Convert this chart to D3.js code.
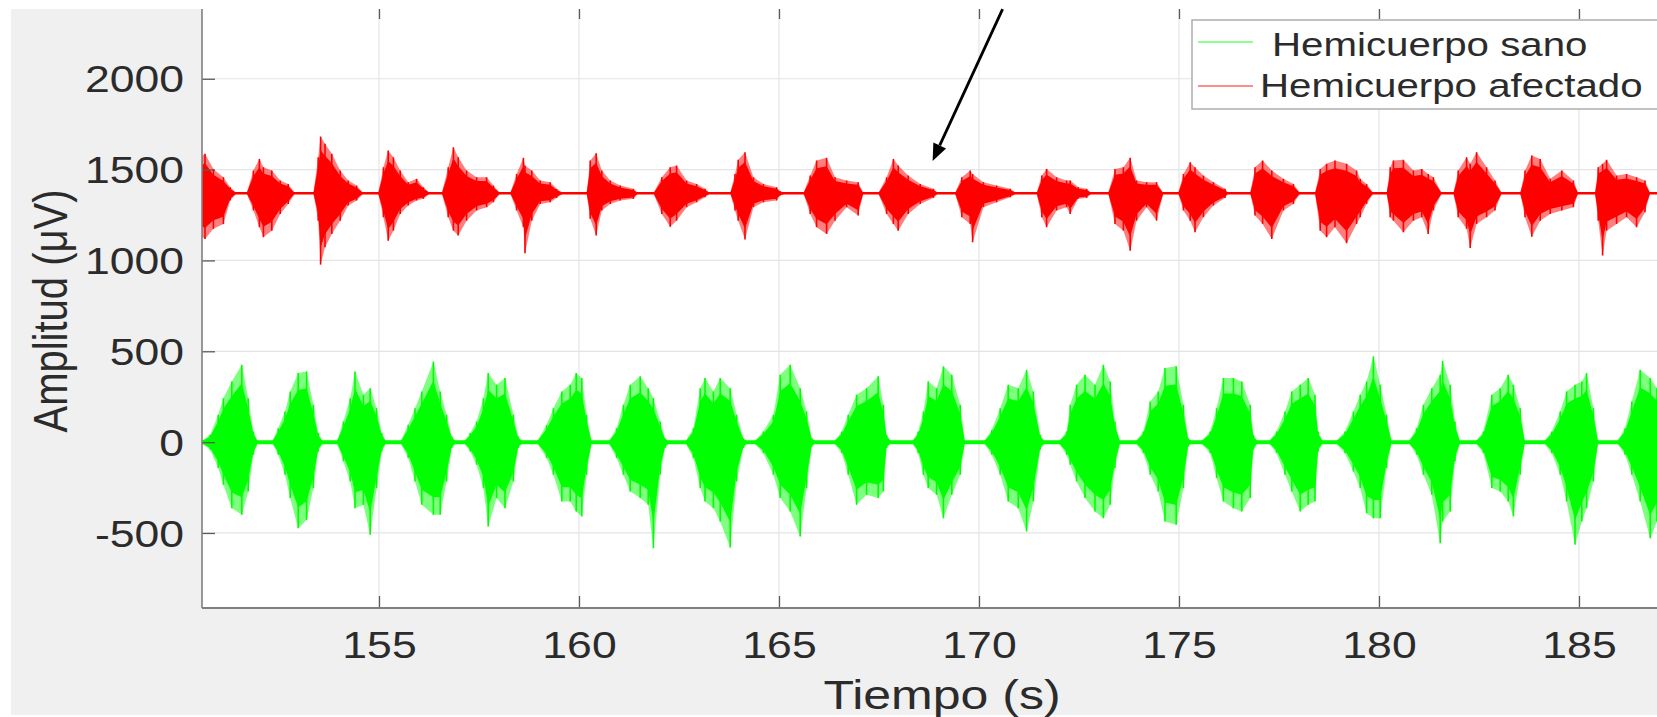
<!DOCTYPE html>
<html>
<head>
<meta charset="utf-8">
<script src="https://cdn.jsdelivr.net/npm/d3@7"></script>
<style>
  body { margin: 0; background: #fff; }
  svg { display: block; }
  text { font-family: "Liberation Sans", Arial, sans-serif; fill: #2b2b2b; }
</style>
</head>
<body>
<div id="chart"></div>
<script>
const width = 1657, height = 717;

// ticks
const xTicks = [155, 160, 165, 170, 175, 180, 185];
const yTicks = [-500, 0, 500, 1000, 1500, 2000];

// series names / colours
const seriesNames = ['Hemicuerpo sano', 'Hemicuerpo afectado'];
const seriesColors = ['#00ff00', '#ff0000'];

// baselines of each signal (µV)
const sanoBase = 0;
const afectadoBase = 1370;

// envelope of each signal: [tiempo (s), max (µV), min (µV)]
const sanoEnv = [
  [150.53,0,0],[150.78,40,-42],[150.98,151,-143],[151.11,242,-235],[151.32,334,-364],[151.57,426,-400],[151.73,242,-272],[151.86,59,-70],[151.98,0,0],
  [152.32,0,0],[152.48,77,-70],[152.65,169,-180],[152.78,279,-308],[152.98,380,-474],[153.19,389,-428],[153.36,206,-253],[153.48,50,-51],[153.61,0,0],
  [153.94,0,0],[154.11,114,-106],[154.28,242,-217],[154.40,389,-364],[154.61,261,-345],[154.78,297,-510],[154.94,187,-253],[155.07,50,-51],[155.19,0,0],
  [155.53,0,0],[155.73,95,-88],[155.90,187,-217],[156.07,279,-345],[156.36,444,-400],[156.53,279,-400],[156.69,151,-217],[156.82,31,-33],[156.94,0,0],
  [157.11,0,0],[157.28,50,-51],[157.44,114,-125],[157.61,242,-253],[157.73,380,-464],[157.94,316,-308],[158.15,353,-364],[158.36,151,-217],[158.48,31,-33],[158.61,0,0],
  [158.94,0,0],[159.19,95,-88],[159.36,187,-180],[159.57,279,-327],[159.78,316,-327],[159.93,380,-382],[160.07,353,-409],[160.19,151,-180],[160.32,0,0],
  [160.73,0,0],[160.94,77,-88],[161.11,206,-180],[161.28,316,-272],[161.53,362,-308],[161.73,297,-345],[161.86,242,-584],[162.03,114,-180],[162.15,22,-33],[162.28,0,0],
  [162.65,0,0],[162.86,77,-88],[163.03,297,-253],[163.15,353,-327],[163.36,279,-364],[163.53,353,-437],[163.78,297,-580],[163.94,151,-217],[164.11,22,-33],[164.23,0,0],
  [164.36,0,0],[164.61,59,-61],[164.86,151,-180],[165.03,371,-308],[165.28,426,-382],[165.53,297,-520],[165.69,169,-253],[165.82,22,-24],[165.94,0,0],
  [166.36,0,0],[166.57,59,-61],[166.73,151,-180],[166.94,261,-345],[167.19,297,-290],[167.48,362,-308],[167.61,206,-272],[167.69,40,-33],[167.82,0,0],
  [168.32,0,0],[168.48,59,-61],[168.61,169,-180],[168.73,334,-253],[168.94,297,-290],[169.11,417,-419],[169.32,371,-290],[169.53,206,-180],[169.65,0,0],
  [170.11,0,0],[170.32,68,-70],[170.53,187,-180],[170.73,316,-327],[170.98,297,-364],[171.19,398,-492],[171.36,279,-327],[171.53,40,-42],[171.65,0,0],
  [171.98,0,0],[172.19,59,-70],[172.28,206,-125],[172.44,316,-217],[172.65,371,-308],[172.90,316,-382],[173.11,426,-419],[173.28,334,-345],[173.40,114,-143],[173.53,0,0],
  [173.90,0,0],[174.11,59,-61],[174.28,224,-180],[174.48,279,-272],[174.65,408,-437],[174.93,417,-455],[175.11,206,-253],[175.23,22,-24],[175.36,0,0],
  [175.53,0,0],[175.78,59,-61],[175.94,187,-198],[176.11,353,-327],[176.36,353,-364],[176.57,334,-382],[176.78,206,-308],[176.86,40,-42],[176.98,0,0],
  [177.23,0,0],[177.44,59,-61],[177.65,169,-180],[177.82,279,-272],[178.03,316,-382],[178.23,353,-345],[178.40,261,-327],[178.48,59,-51],[178.61,0,0],
  [178.90,0,0],[179.15,59,-61],[179.36,169,-162],[179.53,261,-253],[179.69,334,-391],[179.86,472,-419],[180.03,316,-419],[180.19,151,-143],[180.32,0,0],
  [180.73,0,0],[180.94,77,-70],[181.11,206,-180],[181.32,297,-290],[181.53,371,-556],[181.59,448,-437],[181.78,316,-382],[181.90,114,-106],[182.03,0,0],
  [182.40,0,0],[182.61,59,-61],[182.82,261,-253],[183.03,297,-272],[183.23,371,-327],[183.36,316,-409],[183.53,187,-180],[183.65,0,0],
  [184.11,0,0],[184.32,59,-61],[184.53,169,-180],[184.69,279,-327],[184.90,316,-565],[185.07,334,-437],[185.19,380,-364],[185.36,187,-217],[185.48,0,0],
  [185.94,0,0],[186.15,77,-70],[186.32,224,-180],[186.53,398,-327],[186.78,353,-529],[186.95,297,-437],[187.60,200,-200]
];

const afectadoEnv = [
  [150.53,1568,1137],[150.65,1587,1118],[150.86,1504,1174],[151.11,1458,1200],[151.28,1403,1330],[151.44,1370,1370],
  [151.69,1370,1370],[151.86,1495,1275],[152.01,1559,1183],[152.11,1513,1128],[152.32,1495,1164],[152.53,1440,1256],[152.73,1421,1311],[152.90,1370,1370],
  [153.36,1370,1370],[153.48,1568,1219],[153.54,1682,977],[153.65,1642,1073],[153.82,1587,1146],[154.03,1495,1219],[154.23,1440,1302],[154.44,1412,1330],[154.61,1370,1370],
  [154.98,1370,1370],[155.11,1513,1238],[155.23,1605,1109],[155.36,1568,1164],[155.53,1495,1256],[155.73,1431,1302],[155.94,1449,1330],[156.11,1403,1339],[156.28,1370,1370],
  [156.57,1370,1370],[156.73,1513,1238],[156.86,1623,1164],[156.98,1568,1137],[157.19,1495,1219],[157.44,1458,1275],[157.69,1458,1293],[157.86,1412,1320],[158.03,1370,1370],
  [158.28,1370,1370],[158.44,1476,1275],[158.61,1565,1183],[158.65,1522,1040],[158.82,1495,1219],[159.03,1440,1311],[159.28,1431,1320],[159.44,1394,1344],[159.61,1370,1370],
  [160.19,1370,1370],[160.28,1550,1229],[160.43,1590,1137],[160.57,1495,1275],[160.78,1440,1311],[161.03,1412,1330],[161.36,1394,1339],[161.48,1370,1370],
  [161.86,1370,1370],[162.07,1458,1256],[162.28,1513,1186],[162.44,1522,1219],[162.69,1440,1293],[162.94,1421,1320],[163.15,1394,1348],[163.28,1370,1370],
  [163.78,1370,1370],[163.90,1476,1275],[163.98,1554,1219],[164.15,1596,1115],[164.36,1458,1293],[164.61,1421,1320],[164.94,1403,1330],[165.03,1381,1357],[165.19,1370,1370],
  [165.61,1370,1370],[165.78,1467,1256],[165.94,1550,1183],[166.19,1565,1146],[166.40,1458,1219],[166.69,1440,1293],[166.98,1431,1247],[167.11,1370,1370],
  [167.48,1370,1370],[167.69,1458,1256],[167.86,1559,1201],[167.98,1522,1164],[168.23,1467,1256],[168.53,1421,1311],[168.86,1394,1344],[168.98,1370,1370],
  [169.40,1370,1370],[169.57,1458,1238],[169.78,1495,1201],[169.84,1476,1100],[170.11,1431,1293],[170.44,1412,1320],[170.78,1394,1348],[170.94,1370,1370],
  [171.44,1370,1370],[171.57,1467,1238],[171.69,1504,1183],[171.94,1458,1275],[172.19,1440,1293],[172.28,1440,1256],[172.48,1403,1339],[172.69,1394,1344],[172.82,1370,1370],
  [173.23,1370,1370],[173.40,1504,1201],[173.61,1513,1164],[173.78,1565,1054],[173.94,1440,1219],[174.19,1431,1293],[174.44,1431,1219],[174.61,1370,1370],
  [174.98,1370,1370],[175.11,1476,1275],[175.28,1541,1219],[175.40,1513,1155],[175.61,1467,1238],[175.86,1431,1302],[176.15,1394,1344],[176.23,1370,1370],
  [176.78,1370,1370],[176.90,1513,1247],[177.09,1550,1201],[177.32,1495,1118],[177.61,1449,1275],[177.86,1421,1311],[178.03,1370,1370],
  [178.40,1370,1370],[178.53,1504,1164],[178.69,1532,1128],[178.90,1550,1183],[179.19,1532,1095],[179.44,1495,1201],[179.53,1449,1238],[179.69,1421,1311],[179.86,1370,1370],
  [180.19,1370,1370],[180.28,1513,1238],[180.36,1550,1219],[180.61,1554,1155],[180.86,1495,1219],[181.07,1504,1238],[181.23,1476,1146],[181.36,1458,1275],[181.57,1370,1370],
  [181.86,1370,1370],[181.98,1495,1238],[182.19,1568,1174],[182.28,1532,1069],[182.44,1596,1201],[182.69,1513,1238],[182.90,1440,1275],[183.07,1370,1370],
  [183.53,1370,1370],[183.65,1495,1238],[183.82,1577,1131],[184.03,1559,1219],[184.28,1449,1256],[184.57,1495,1275],[184.86,1440,1293],[184.98,1370,1370],
  [185.40,1370,1370],[185.48,1513,1219],[185.59,1532,1027],[185.69,1554,1164],[185.94,1467,1201],[186.19,1476,1238],[186.44,1458,1183],[186.65,1440,1265],[186.78,1370,1370],[187.60,1370,1370]
];

// annotation arrow [tiempo, amplitud]
const arrowFrom = [170.59, 2383];
const arrowTo = [168.84, 1548];

const sx = 1.22; // the picture is stretched sideways
const plot = { left: 202, right: 1682, top: 9, bottom: 608 };

const x = d3.scaleLinear().domain([150.575, 187.575]).range([plot.left, plot.right]);
const y = d3.scaleLinear().domain([-913, 2384]).range([plot.bottom, plot.top]);

const svg = d3.select('#chart').append('svg')
  .attr('width', width)
  .attr('height', height);

svg.append('rect').attr('width', width).attr('height', height).attr('fill', '#fff');
svg.append('rect')
  .attr('x', 11).attr('y', 9)
  .attr('width', width - 11).attr('height', 706)
  .attr('fill', '#f0f0f0');
svg.append('rect')
  .attr('x', plot.left).attr('y', plot.top)
  .attr('width', plot.right - plot.left).attr('height', plot.bottom - plot.top)
  .attr('fill', '#fff');

svg.append('clipPath').attr('id', 'clip')
  .append('rect')
  .attr('x', plot.left).attr('y', plot.top)
  .attr('width', plot.right - plot.left).attr('height', plot.bottom - plot.top);

// grid
const grid = svg.append('g').attr('stroke', '#e4e4e4').attr('stroke-width', 1.2);
grid.selectAll('.gx').data(xTicks).join('line')
  .attr('x1', d => x(d)).attr('x2', d => x(d))
  .attr('y1', plot.top).attr('y2', plot.bottom);
grid.selectAll('.gy').data(yTicks).join('line')
  .attr('x1', plot.left).attr('x2', plot.right)
  .attr('y1', d => y(d)).attr('y2', d => y(d));

// signals
const signals = svg.append('g').attr('clip-path', 'url(#clip)');
const coreRatio = 0.76;

function drawSignal(env, base, color) {
  const g = signals.append('g');
  const outer = d3.area()
    .x(d => x(d[0]))
    .y0(d => y(d[2]))
    .y1(d => y(d[1]));
  const core = d3.area()
    .x(d => x(d[0]))
    .y0(d => y(base + coreRatio * (d[2] - base)))
    .y1(d => y(base + coreRatio * (d[1] - base)));

  g.append('path').attr('d', outer(env)).attr('fill', color).attr('opacity', 0.5);
  g.append('path').attr('d', core(env)).attr('fill', color);

  g.selectAll('line.spike')
    .data(env.filter(d => d[1] !== d[2]))
    .join('line')
    .attr('class', 'spike')
    .attr('x1', d => x(d[0])).attr('x2', d => x(d[0]))
    .attr('y1', d => y(d[1])).attr('y2', d => y(d[2]))
    .attr('stroke', color).attr('stroke-width', 1.6);

  g.append('line')
    .attr('x1', plot.left).attr('x2', plot.right)
    .attr('y1', y(base)).attr('y2', y(base))
    .attr('stroke', color)
    .attr('stroke-width', base === 0 ? 4 : 2.5);
}

drawSignal(sanoEnv, sanoBase, seriesColors[0]);
drawSignal(afectadoEnv, afectadoBase, seriesColors[1]);

// axes
const yAxis = svg.append('g')
  .attr('transform', `translate(${plot.left},0)`)
  .call(d3.axisLeft(y).tickValues(yTicks).tickFormat(d => String(d)).tickSize(-13).tickPadding(0));
yAxis.attr('font-size', null).attr('font-family', null);
yAxis.select('.domain').remove();
yAxis.selectAll('line').attr('stroke', '#5a5a5a').attr('stroke-width', 1.3);
yAxis.selectAll('text')
  .attr('x', 0).attr('dy', '0.36em')
  .attr('transform', `translate(-18,0) scale(${sx},1)`)
  .attr('fill', '#2b2b2b')
  .style('font-size', '36.5px');

const xAxis = svg.append('g')
  .attr('transform', `translate(0,${plot.bottom})`)
  .call(d3.axisBottom(x).tickValues(xTicks).tickFormat(d => String(d)).tickSize(-12).tickPadding(0));
xAxis.attr('font-size', null).attr('font-family', null);
xAxis.select('.domain').remove();
xAxis.selectAll('line').attr('stroke', '#5a5a5a').attr('stroke-width', 1.3);
xAxis.selectAll('text')
  .attr('y', 0).attr('dy', 0)
  .attr('transform', `translate(0,50) scale(${sx},1)`)
  .attr('fill', '#2b2b2b')
  .style('font-size', '36.5px');

const topAxis = svg.append('g')
  .attr('transform', `translate(0,${plot.top})`)
  .call(d3.axisTop(x).tickValues(xTicks).tickSize(-10).tickFormat(''));
topAxis.select('.domain').remove();
topAxis.selectAll('line').attr('stroke', '#5a5a5a').attr('stroke-width', 1.3);

svg.append('line')
  .attr('x1', plot.left).attr('x2', plot.left)
  .attr('y1', plot.top).attr('y2', plot.bottom)
  .attr('stroke', '#7f7f7f').attr('stroke-width', 1.6);
svg.append('line')
  .attr('x1', plot.left).attr('x2', width)
  .attr('y1', plot.bottom).attr('y2', plot.bottom)
  .attr('stroke', '#7f7f7f').attr('stroke-width', 2);

// axis titles
svg.append('text')
  .attr('transform', `translate(${(plot.left + plot.right) / 2},709) scale(${sx},1)`)
  .attr('text-anchor', 'middle')
  .style('font-size', '41px')
  .text('Tiempo (s)');

svg.append('text')
  .attr('transform', `translate(67,311) scale(${sx},1) rotate(-90)`)
  .attr('text-anchor', 'middle')
  .style('font-size', '40px')
  .text('Amplitud (μV)');

// legend
const legend = svg.append('g');
legend.append('rect')
  .attr('x', 1192).attr('y', 20)
  .attr('width', 490).attr('height', 89)
  .attr('fill', '#fff')
  .attr('stroke', '#a8a8a8').attr('stroke-width', 1.4);
const legendRows = [
  { y: 42, textX: 1272, base: 56 },
  { y: 86, textX: 1260, base: 97 }
];
legendRows.forEach((r, i) => {
  legend.append('line')
    .attr('x1', 1198).attr('x2', 1253)
    .attr('y1', r.y).attr('y2', r.y)
    .attr('stroke', seriesColors[i]).attr('stroke-width', 1.3)
    .attr('opacity', 0.6);
  legend.append('text')
    .attr('transform', `translate(${r.textX},${r.base}) scale(${sx},1)`)
    .style('font-size', '33px')
    .attr('fill', '#1e1e1e')
    .text(seriesNames[i]);
});

// arrow annotation
const ax0 = x(arrowFrom[0]), ay0 = y(arrowFrom[1]);
const ax1 = x(arrowTo[0]), ay1 = y(arrowTo[1]);
const ang = Math.atan2(ay1 - ay0, ax1 - ax0);
const headLen = 17, headHalf = 7;
const bx = ax1 - headLen * Math.cos(ang), by = ay1 - headLen * Math.sin(ang);
svg.append('line')
  .attr('x1', ax0).attr('y1', ay0)
  .attr('x2', bx).attr('y2', by)
  .attr('stroke', '#000').attr('stroke-width', 2.8);
svg.append('path')
  .attr('d', d3.line()([
    [ax1, ay1],
    [bx + headHalf * Math.sin(ang), by - headHalf * Math.cos(ang)],
    [bx - headHalf * Math.sin(ang), by + headHalf * Math.cos(ang)]
  ]) + 'Z')
  .attr('fill', '#000');
</script>
</body>
</html>
